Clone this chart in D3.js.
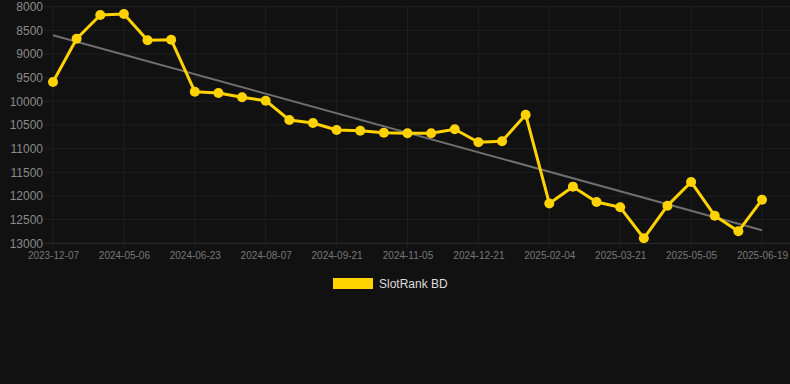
<!DOCTYPE html>
<html>
<head>
<meta charset="utf-8">
<script src="https://cdn.jsdelivr.net/npm/d3@7"></script>
<style>
  html, body { margin: 0; padding: 0; background: #111111; }
  svg { display: block; font-family: "Liberation Sans", Arial, sans-serif; }
</style>
</head>
<body>
<div id="chart"></div>
<script>
// category dates (every third one is labelled on the axis)
const dates = [
  "2023-12-07", "2024-04-06", "2024-04-21",
  "2024-05-06", "2024-05-22", "2024-06-07",
  "2024-06-23", "2024-07-08", "2024-07-23",
  "2024-08-07", "2024-08-22", "2024-09-06",
  "2024-09-21", "2024-10-06", "2024-10-21",
  "2024-11-05", "2024-11-20", "2024-12-06",
  "2024-12-21", "2025-01-05", "2025-01-20",
  "2025-02-04", "2025-02-19", "2025-03-06",
  "2025-03-21", "2025-04-05", "2025-04-20",
  "2025-05-05", "2025-05-20", "2025-06-04",
  "2025-06-19"
];

const rankValues = [
  9590, 8676, 8175, 8154, 8710, 8697, 9796, 9824, 9914, 9986,
  10394, 10457, 10605, 10620, 10662, 10675, 10675, 10590, 10865, 10844,
  10282, 12158, 11803, 12127, 12239, 12894, 12205, 11704, 12416, 12746,
  12078
];

const yTicks = [8000, 8500, 9000, 9500, 10000, 10500, 11000, 11500, 12000, 12500, 13000];
const seriesName = "SlotRank BD";

const width = 790, height = 384;
const plotLeft = 44, plotRight = 790, plotTop = 6.7, plotBottom = 243.3;

const svg = d3.select("#chart").append("svg")
  .attr("width", width)
  .attr("height", height);

svg.append("rect")
  .attr("width", width).attr("height", height)
  .attr("fill", "#111111");

const x = d3.scalePoint()
  .domain(dates)
  .range([53, 762]);

const y = d3.scaleLinear()
  .domain([8000, 13000])
  .range([plotTop, plotBottom]);

// horizontal grid
svg.append("g")
  .selectAll("line")
  .data(yTicks)
  .join("line")
  .attr("x1", plotLeft).attr("x2", plotRight)
  .attr("y1", d => y(d)).attr("y2", d => y(d))
  .attr("stroke", d => d === 13000 ? "#2e2e2e" : "#1f1f1f")
  .attr("stroke-width", 1);

// vertical grid at labelled dates
const labelled = dates.filter((d, i) => i % 3 === 0);
svg.append("g")
  .selectAll("line")
  .data(labelled)
  .join("line")
  .attr("x1", d => x(d)).attr("x2", d => x(d))
  .attr("y1", plotTop).attr("y2", plotBottom + 5)
  .attr("stroke", "#1f1f1f")
  .attr("stroke-width", 1);

// y axis labels
const yAxis = d3.axisLeft(y).tickValues(yTicks).tickSize(0).tickPadding(0).tickFormat(d3.format("d"));
svg.append("g")
  .attr("transform", `translate(${plotLeft - 1},0)`)
  .call(yAxis)
  .call(g => g.select(".domain").remove())
  .call(g => g.selectAll("text")
    .attr("fill", "#8a8a8a")
    .style("font-size", "12px")
    .style("font-family", "'Liberation Sans', Arial, sans-serif"));

// x axis labels
const xAxis = d3.axisBottom(x).tickValues(labelled).tickSize(0).tickPadding(0);
svg.append("g")
  .attr("transform", `translate(0,${plotBottom + 9})`)
  .call(xAxis)
  .call(g => g.select(".domain").remove())
  .call(g => g.selectAll("text")
    .attr("fill", "#777777")
    .style("font-size", "10px")
    .style("font-family", "'Liberation Sans', Arial, sans-serif"));

// trend line (least squares over the series)
const n = rankValues.length;
const xs = d3.range(n);
const mx = d3.mean(xs), my = d3.mean(rankValues);
const slope = d3.sum(xs, i => (i - mx) * (rankValues[i] - my)) / d3.sum(xs, i => (i - mx) * (i - mx));
const intercept = my - slope * mx;
const trend = [0, n - 1].map(i => ({ date: dates[i], v: intercept + slope * i }));

svg.append("path")
  .datum(trend)
  .attr("fill", "none")
  .attr("stroke", "#6e6e6e")
  .attr("stroke-width", 2)
  .attr("d", d3.line().x(d => x(d.date)).y(d => y(d.v)));

// main series
const data = dates.map((d, i) => ({ date: d, v: rankValues[i] }));

svg.append("path")
  .datum(data)
  .attr("fill", "none")
  .attr("stroke", "#ffd200")
  .attr("stroke-width", 3)
  .attr("stroke-linejoin", "round")
  .attr("d", d3.line().x(d => x(d.date)).y(d => y(d.v)));

svg.append("g")
  .selectAll("circle")
  .data(data)
  .join("circle")
  .attr("cx", d => x(d.date))
  .attr("cy", d => y(d.v))
  .attr("r", 5)
  .attr("fill", "#ffd200");

// legend
const legend = svg.append("g").attr("transform", "translate(333,278)");
legend.append("rect")
  .attr("width", 40).attr("height", 11)
  .attr("fill", "#ffd200");
legend.append("text")
  .attr("x", 46).attr("y", 10)
  .attr("fill", "#dddddd")
  .style("font-size", "12px")
  .text(seriesName);
</script>
</body>
</html>
